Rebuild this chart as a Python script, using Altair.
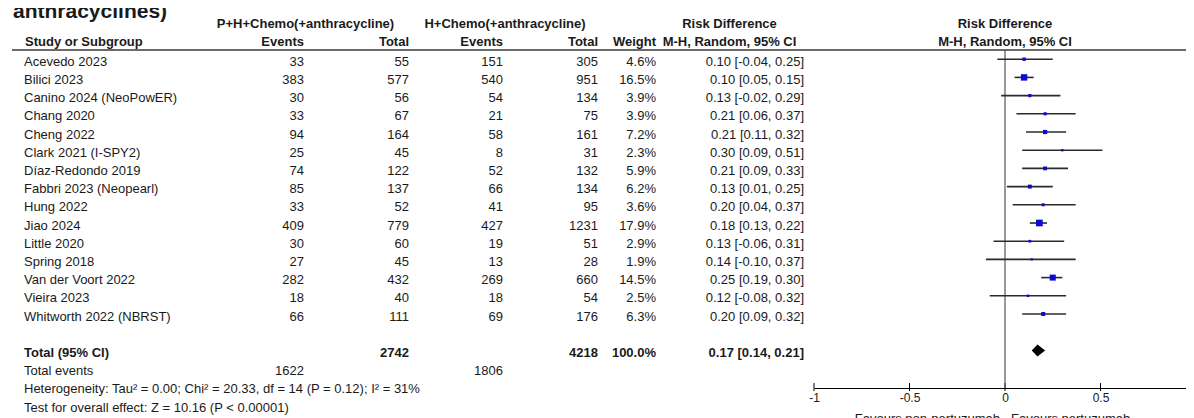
import altair as alt
import pandas as pd

# ---------------- data ----------------
title_text = "anthracyclines)"
exp_label = "P+H+Chemo(+anthracycline)"
ctl_label = "H+Chemo(+anthracycline)"

studies = ["Acevedo 2023", "Bilici 2023", "Canino 2024 (NeoPowER)", "Chang 2020",
           "Cheng 2022", "Clark 2021 (I-SPY2)", "Díaz-Redondo 2019",
           "Fabbri 2023 (Neopearl)", "Hung 2022", "Jiao 2024", "Little 2020",
           "Spring 2018", "Van der Voort 2022", "Vieira 2023", "Whitworth 2022 (NBRST)"]
exp_events = [33, 383, 30, 33, 94, 25, 74, 85, 33, 409, 30, 27, 282, 18, 66]
exp_total = [55, 577, 56, 67, 164, 45, 122, 137, 52, 779, 60, 45, 432, 40, 111]
ctl_events = [151, 540, 54, 21, 58, 8, 52, 66, 41, 427, 19, 13, 269, 18, 69]
ctl_total = [305, 951, 134, 75, 161, 31, 132, 134, 95, 1231, 51, 28, 660, 54, 176]
weights = [4.6, 16.5, 3.9, 3.9, 7.2, 2.3, 5.9, 6.2, 3.6, 17.9, 2.9, 1.9, 14.5, 2.5, 6.3]
rd = [0.10, 0.10, 0.13, 0.21, 0.21, 0.30, 0.21, 0.13, 0.20, 0.18, 0.13, 0.14, 0.25, 0.12, 0.20]
ci_lo = [-0.04, 0.05, -0.02, 0.06, 0.11, 0.09, 0.09, 0.01, 0.04, 0.13, -0.06, -0.10, 0.19, -0.08, 0.09]
ci_hi = [0.25, 0.15, 0.29, 0.37, 0.32, 0.51, 0.33, 0.25, 0.37, 0.22, 0.31, 0.37, 0.30, 0.32, 0.32]

total_exp = 2742
total_ctl = 4218
total_weight = 100.0
total_events_exp = 1622
total_events_ctl = 1806
pooled_rd = 0.17
pooled_lo = 0.14
pooled_hi = 0.21
het_text = "Heterogeneity: Tau\u00b2 = 0.00; Chi\u00b2 = 20.33, df = 14 (P = 0.12); I\u00b2 = 31%"
test_text = "Test for overall effect: Z = 10.16 (P < 0.00001)"
tick_values = [-1, -0.5, 0, 0.5, 1]
favours_left = "Favours non-pertuzumab"
favours_right = "Favours pertuzumab"

# ---------------- tables ----------------
n = len(studies)
rows = pd.DataFrame({
    "row": list(range(n)),
    "study": studies,
    "ee": [str(v) for v in exp_events],
    "et": [str(v) for v in exp_total],
    "ce": [str(v) for v in ctl_events],
    "ct": [str(v) for v in ctl_total],
    "w": [f"{v:.1f}%" for v in weights],
    "weight": weights,
    "rd": rd,
    "lo": ci_lo,
    "hi": ci_hi,
    "ci": [f"{a:.2f} [{b:.2f}, {c:.2f}]" for a, b, c in zip(rd, ci_lo, ci_hi)],
})
TOTAL_ROW = n + 1
tot = pd.DataFrame({
    "row": [TOTAL_ROW],
    "label": ["Total (95% CI)"],
    "et": [str(total_exp)],
    "ct": [str(total_ctl)],
    "w": [f"{total_weight:.1f}%"],
    "ci": [f"{pooled_rd:.2f} [{pooled_lo:.2f}, {pooled_hi:.2f}]"],
})
evt = pd.DataFrame({"row": [TOTAL_ROW + 1], "label": ["Total events"],
                    "ee": [str(total_events_exp)], "ce": [str(total_events_ctl)]})
notes = pd.DataFrame({"row": [TOTAL_ROW + 2, TOTAL_ROW + 3], "label": [het_text, test_text]})
half = 0.33
diamond = pd.DataFrame({
    "x": [pooled_lo, pooled_rd, pooled_hi],
    "y1": [TOTAL_ROW, TOTAL_ROW - half, TOTAL_ROW],
    "y2": [TOTAL_ROW, TOTAL_ROW + half, TOTAL_ROW],
})
ticks_df = pd.DataFrame({"t": tick_values})

# ---------------- styling / layout ----------------
FONT = "Liberation Sans, Arial, sans-serif"
TXT = "#1a1a1a"
FS = 13
W, H = 1178, 380
ROW0, STEP = 57.7, 18.2
Y = alt.Scale(domain=[0, 19], range=[ROW0, ROW0 + STEP * 19], zero=False, nice=False)
X = alt.Scale(domain=[-1, 1], range=[806, 1188], zero=False, nice=False)
XAX = alt.Axis(values=tick_values, labelExpr="toString(datum.value)",
               ticks=False, grid=False, domain=True, domainColor="black",
               domainWidth=1, labelFont=FONT, labelFontSize=12,
               labelColor=TXT, labelPadding=4, labelFlush=False,
               labelOverlap=False, labelBound=False, title=None)
MOFF = -6.5  # marker centre relative to text baseline

yrow = alt.Y("row:Q", scale=Y, axis=None)


def xq(field):
    return alt.X(field, scale=X, axis=XAX)


def col_text(df, field, x, align, bold=False, size=FS):
    return alt.Chart(df).mark_text(
        align=align, baseline="alphabetic", font=FONT, fontSize=size,
        fontWeight="bold" if bold else "normal", color=TXT
    ).encode(x=alt.value(x), y=yrow, text=alt.Text(f"{field}:N"))


def fixed_text(text, x, y, align, bold=True, size=FS):
    return alt.Chart(pd.DataFrame({"t": [text]})).mark_text(
        align=align, baseline="alphabetic", font=FONT, fontSize=size,
        fontWeight="bold" if bold else "normal", color=TXT
    ).encode(x=alt.value(x), y=alt.value(y), text="t:N")


layers = []
# x axis (domain + labels) with ticks crossing the axis line
layers.append(
    alt.Chart(ticks_df).mark_rule(color="black", strokeWidth=1)
    .encode(x=xq("t:Q"), y=alt.value(H - 5), y2=alt.value(H + 3))
)
# title (partially cut off at the top as in the reference)
layers.append(fixed_text(title_text, 5, 10, "left", True, 21))
# header row 1
layers.append(fixed_text(exp_label, 297.5, 20, "center"))
layers.append(fixed_text(ctl_label, 497, 20, "center"))
layers.append(fixed_text("Risk Difference", 721.5, 20, "center"))
# header row 2
HY2 = 37.7
layers.append(fixed_text("Study or Subgroup", 17, HY2, "left"))
layers.append(fixed_text("Events", 296, HY2, "right"))
layers.append(fixed_text("Total", 401, HY2, "right"))
layers.append(fixed_text("Events", 495, HY2, "right"))
layers.append(fixed_text("Total", 590, HY2, "right"))
layers.append(fixed_text("Weight", 648, HY2, "right"))
layers.append(fixed_text("M-H, Random, 95% CI", 721.5, HY2, "center"))

# forest headers centred at x = 0
for txt, yy in [("Risk Difference", 20), ("M-H, Random, 95% CI", HY2)]:
    layers.append(
        alt.Chart(pd.DataFrame({"t": [txt], "x0": [0]})).mark_text(
            align="center", baseline="alphabetic", font=FONT, fontSize=FS,
            fontWeight="bold", color=TXT
        ).encode(x=xq("x0:Q"), y=alt.value(yy), text="t:N")
    )

# header rule
layers.append(
    alt.Chart(pd.DataFrame({"a": [0]})).mark_rule(color="#3a3a3a", strokeWidth=1.5)
    .encode(x=alt.value(4), x2=alt.value(W), y=alt.value(42))
)

# study rows
layers.append(col_text(rows, "study", 16, "left"))
layers.append(col_text(rows, "ee", 296, "right"))
layers.append(col_text(rows, "et", 401, "right"))
layers.append(col_text(rows, "ce", 495, "right"))
layers.append(col_text(rows, "ct", 590, "right"))
layers.append(col_text(rows, "w", 648, "right"))
layers.append(col_text(rows, "ci", 796, "right"))

# totals
layers.append(col_text(tot, "label", 16, "left", True))
layers.append(col_text(tot, "et", 401, "right", True))
layers.append(col_text(tot, "ct", 590, "right", True))
layers.append(col_text(tot, "w", 648, "right", True))
layers.append(col_text(tot, "ci", 796, "right", True))
layers.append(col_text(evt, "label", 16, "left"))
layers.append(col_text(evt, "ee", 296, "right"))
layers.append(col_text(evt, "ce", 495, "right"))
layers.append(col_text(notes, "label", 16, "left"))

# zero line
layers.append(
    alt.Chart(pd.DataFrame({"z": [0]})).mark_rule(color="#555555", strokeWidth=1.2)
    .encode(x=xq("z:Q"), y=alt.value(42), y2=alt.value(H))
)

# CI lines
layers.append(
    alt.Chart(rows).mark_rule(color="#2a2a2a", strokeWidth=1.6, yOffset=MOFF)
    .encode(x=xq("lo:Q"), x2="hi:Q", y=yrow)
)
# weighted squares
layers.append(
    alt.Chart(rows).mark_square(color="#0a0ad0", opacity=1, yOffset=MOFF)
    .encode(x=xq("rd:Q"), y=yrow,
            size=alt.Size("weight:Q", scale=alt.Scale(domain=[0, 20], range=[0, 50]), legend=None))
)
# pooled diamond
layers.append(
    alt.Chart(diamond).mark_area(color="black", opacity=1, yOffset=MOFF, y2Offset=MOFF)
    .encode(x=xq("x:Q"), y=alt.Y("y1:Q", scale=Y, axis=None), y2="y2:Q")
)

# favours labels (cut by the bottom edge as in the reference)
for txt, al, off in [(favours_left, "right", -5), (favours_right, "left", 6)]:
    layers.append(
        alt.Chart(pd.DataFrame({"t": [txt], "x0": [0]})).mark_text(
            align=al, baseline="alphabetic", font=FONT, fontSize=13, color=TXT, dx=off
        ).encode(x=xq("x0:Q"), y=alt.value(H + 35), text="t:N")
    )

chart = alt.layer(*layers).properties(
    width=W, height=H,
    autosize=alt.AutoSizeParams(type="none"),
    padding={"left": 0, "top": 0, "right": 0, "bottom": 30},
).configure_view(stroke=None)

chart.save("out.html", embed_options={"renderer": "svg", "actions": False})
